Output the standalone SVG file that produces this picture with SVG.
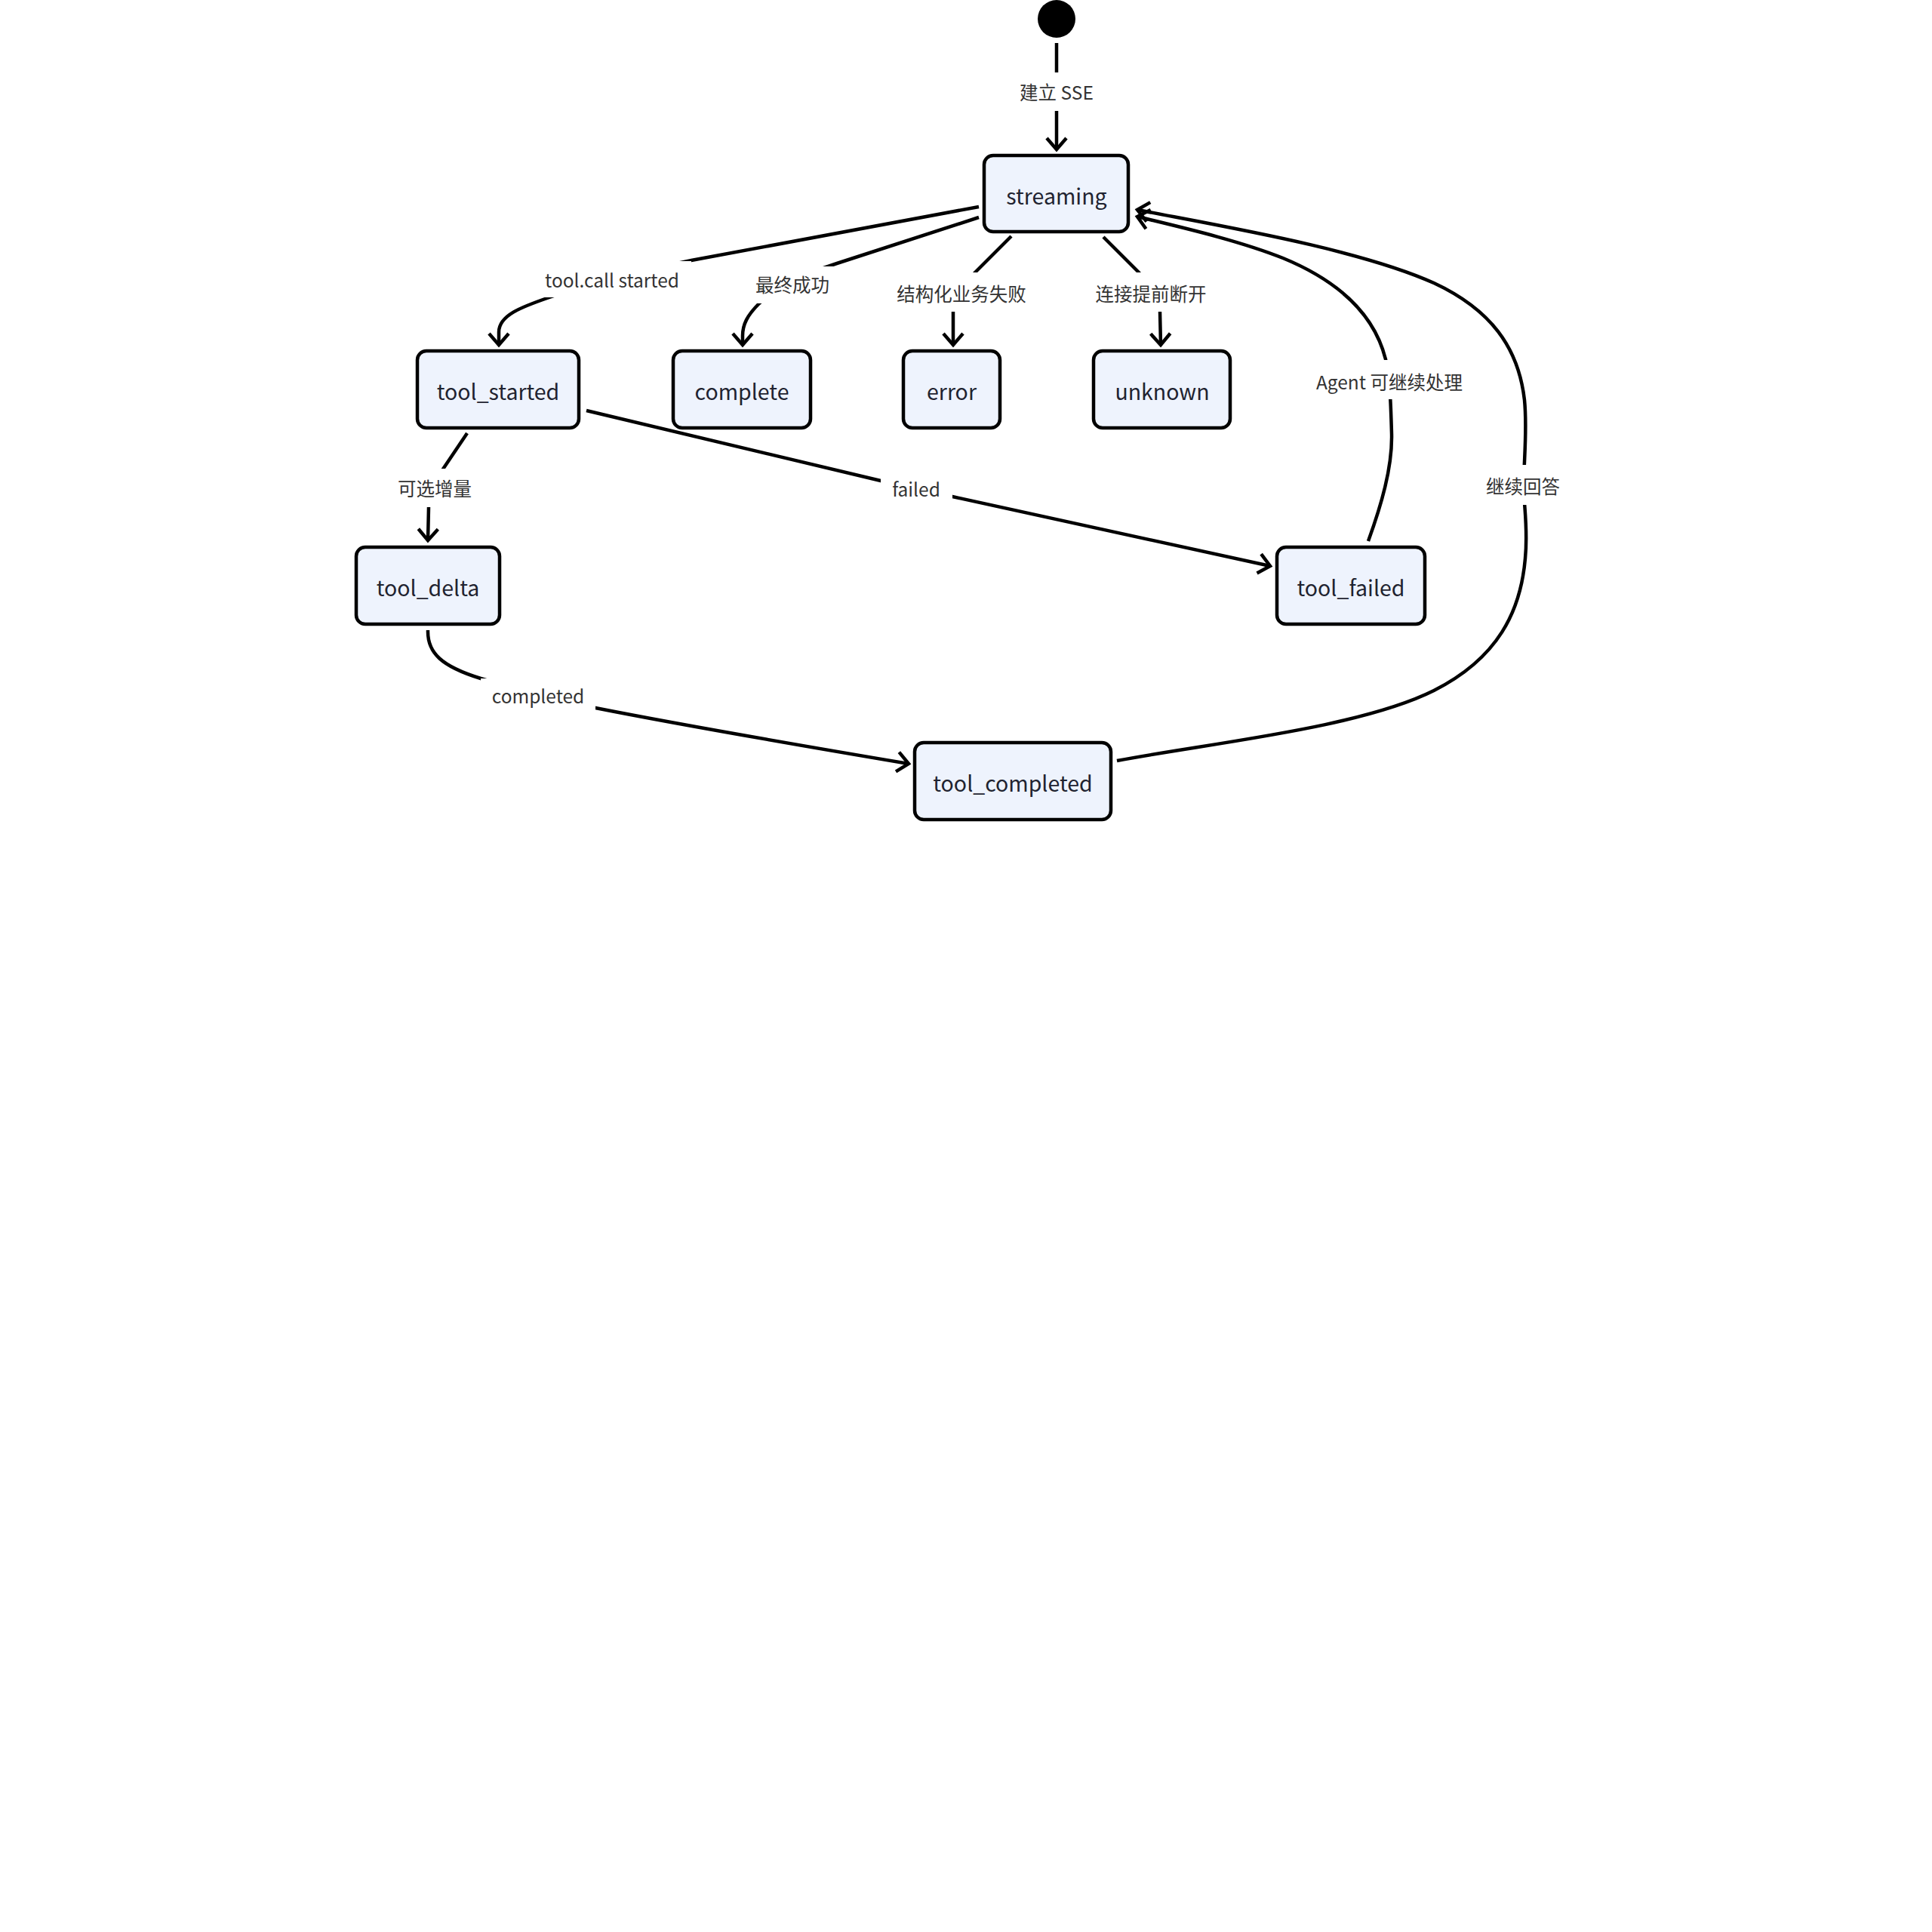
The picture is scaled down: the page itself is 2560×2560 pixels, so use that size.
<svg xmlns="http://www.w3.org/2000/svg" width="2560" height="2560" viewBox="0 0 2560 2560">
<defs>
<style>
.node rect{fill:#eef3fd;stroke:#000;stroke-width:4.5}
.node text{font-family:"Noto Sans CJK SC","Noto Sans",sans-serif;font-size:28.5px;fill:#1f2330;text-anchor:middle}
.edge{fill:none;stroke:#000;stroke-width:4.5;marker-end:url(#arrow)}
.lbl rect{fill:#fff;stroke:none}
.lbl text{font-family:"Noto Sans CJK SC","Noto Sans",sans-serif;font-size:24.5px;fill:#333;text-anchor:middle}
</style>
<marker id="arrow" markerUnits="userSpaceOnUse" viewBox="-20 -18 24 36" refX="0" refY="0" markerWidth="24" markerHeight="36" orient="auto">
<path d="M-15,-13 L0,0 L-15,13" fill="none" stroke="#000" stroke-width="4.5"/>
</marker>
</defs>
<rect width="2560" height="2560" fill="#fff"/>

<g id="connectors">
<path class="edge" d="M1400,57 L1400,198"/>
<path class="edge" d="M1297,274 L916,345 C860,356 780,375 728,394 C690,407 661,418 661,440 L661,457"/>
<path class="edge" d="M1297,288 L1109,349 C1060,365 1030,380 1006,402 C990,418 984,430 984,445 L984,457"/>
<path class="edge" d="M1340,313 L1293,360 C1275,378 1263,395 1263,413 L1263,457"/>
<path class="edge" d="M1462,314 L1508,360 C1525,378 1537,395 1537,413 L1538,457"/>
<path class="edge" d="M1813,717 C1830,670 1845,620 1844,575 C1843,540 1842,500 1836,476 C1822,420 1780,375 1700,342 C1640,318 1560,300 1507,287"/>
<path class="edge" d="M1480,1008 C1600,985 1800,965 1900,915 C1985,872 2015,810 2021,740 C2025,700 2019,670 2019,645 C2019,610 2024,570 2020,530 C2012,460 1975,410 1900,375 C1800,330 1620,300 1507,278"/>
<path class="edge" d="M619,574 L588,620 C578,635 570,650 568,672 L567,716"/>
<path class="edge" d="M777,544 L1167,637 C1200,645 1230,651 1262,658 L1683,750"/>
<path class="edge" d="M567,835 C566,865 585,883 637,899 C680,912 740,928 789,938 C900,960 1050,986 1204,1012"/>

<g class="lbl"><rect x="1340" y="96" width="120" height="51"/><text x="1400" y="132">建立 SSE</text></g>
<g class="lbl"><rect x="707" y="346" width="209" height="48"/><text x="811" y="381">tool.call started</text></g>
<g class="lbl"><rect x="986" y="353" width="128" height="49"/><text x="1050" y="387">最终成功</text></g>
<g class="lbl"><rect x="1176" y="361" width="196" height="52"/><text x="1274" y="399">结构化业务失败</text></g>
<g class="lbl"><rect x="1437" y="361" width="176" height="52"/><text x="1525" y="399">连接提前断开</text></g>
<g class="lbl"><rect x="1730" y="477" width="222" height="52"/><text x="1841" y="516">Agent 可继续处理</text></g>
<g class="lbl"><rect x="1955" y="616" width="126" height="53"/><text x="2018" y="654">继续回答</text></g>
<g class="lbl"><rect x="512" y="621" width="128" height="51"/><text x="576" y="657">可选增量</text></g>
<g class="lbl"><rect x="1167" y="625" width="95" height="50"/><text x="1214" y="658">failed</text></g>
<g class="lbl"><rect x="637" y="899" width="152" height="48"/><text x="713" y="932">completed</text></g>
</g>

<g id="start"><circle cx="1400" cy="25" r="25" fill="#000"/></g>
<g id="streaming" class="node"><rect x="1304" y="206" width="191" height="101" rx="12"/><text x="1400" y="271">streaming</text></g>
<g id="tool_started" class="node"><rect x="553" y="465" width="214" height="102" rx="12"/><text x="660" y="530">tool_started</text></g>
<g id="complete" class="node"><rect x="892" y="465" width="182" height="102" rx="12"/><text x="983" y="530">complete</text></g>
<g id="error" class="node"><rect x="1197" y="465" width="128" height="102" rx="12"/><text x="1261" y="530">error</text></g>
<g id="unknown" class="node"><rect x="1449" y="465" width="181" height="102" rx="12"/><text x="1540" y="530">unknown</text></g>
<g id="tool_delta" class="node"><rect x="472" y="725" width="190" height="102" rx="12"/><text x="567" y="790">tool_delta</text></g>
<g id="tool_failed" class="node"><rect x="1692" y="725" width="196" height="102" rx="12"/><text x="1790" y="790">tool_failed</text></g>
<g id="tool_completed" class="node"><rect x="1212" y="984" width="260" height="102" rx="12"/><text x="1342" y="1049">tool_completed</text></g>
</svg>
